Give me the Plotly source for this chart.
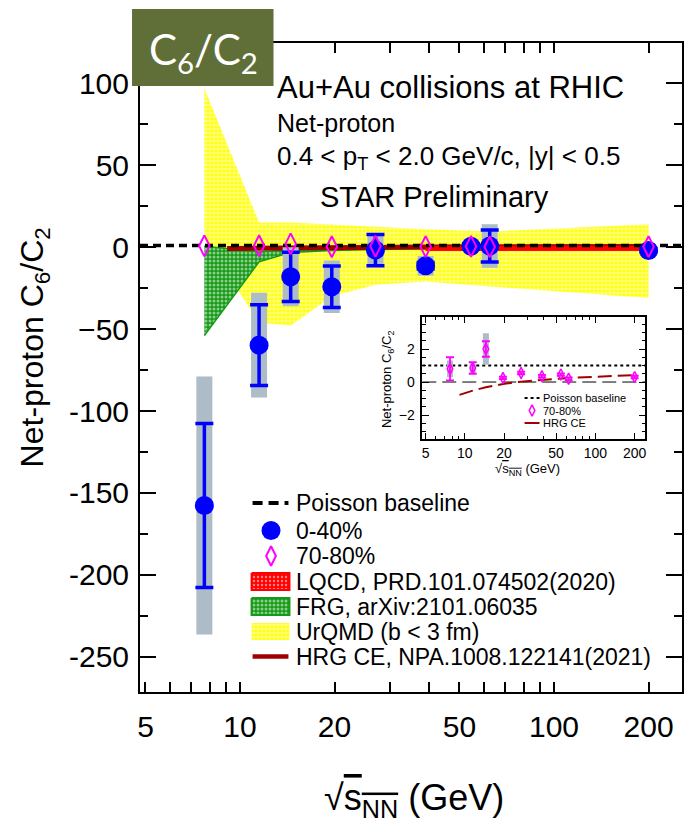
import math
import plotly.graph_objects as go

# ---------------- data ----------------
energy = [7.7, 11.5, 14.5, 19.6, 27, 39, 54.4, 62.4, 200]
c6c2_0040 = [-157.7, -59.8, -18.1, -24.2, -1.8, -11.4, 0.6, 0.7, -2.0]
stat_0040 = [50.0, 24.7, 15.0, 12.7, 9.5, 2.0, 1.5, 9.7, 1.0]
sys_0040 = [78.7, 32.0, 18.0, 16.0, 10.0, 6.0, 2.5, 13.3, 1.5]

c6c2_7080 = [0.8, 0.85, 2.0, 0.25, 0.55, 0.35, 0.45, 0.2, 0.3]
stat_7080 = [0.7, 0.35, 0.47, 0.08, 0.08, 0.08, 0.08, 0.08, 0.08]
sys_7080 = [0.5, 0.3, 0.95, 0.05, 0.05, 0.05, 0.05, 0.05, 0.05]

urqmd_energy = [7.7, 11.5, 14.5, 19.6, 27, 39, 62.4, 200]
urqmd_upper = [97, 15, 15, 14, 12.5, 11, 9.5, 14]
urqmd_lower = [5, -46, -48, -30, -23, -21, -24, -31]

frg_energy = [7.7, 11.5, 14.5, 19.6, 27, 39]
frg_upper = [0.5, -2.9, -1.4, -1.0, -0.5, -0.5]
frg_lower = [-54, -9, -3.2, -2.0, -1.5, -1.0]

lqcd_energy = [39, 62.4, 200]
lqcd_upper = [0.5, 0.5, 0.5]
lqcd_lower = [-2.0, -2.0, -2.0]

hrg_energy = [9.1, 11.5, 14.5, 19.6, 27, 39, 54.4, 62.4, 100, 200]
hrg_vals = [-0.78, -0.52, -0.32, -0.12, 0.02, 0.14, 0.22, 0.25, 0.32, 0.42]

POISSON = 1.0
ZERO = 0.0

x_ticks = [5, 10, 20, 50, 100, 200]
x_ticktext = ["5", "10", "20", "50", "100", "200"]
x_major_long = [10, 100]
x_minor = [6, 7, 8, 9, 30, 40, 60, 70, 80, 90]
y_ticks = [-250, -200, -150, -100, -50, 0, 50, 100]
y_ticktext = ["-250", "-200", "-150", "-100", "\u221250", "0", "50", "100"]
in_y_ticks = [-2, 0, 2]

X_MIN, X_MAX = 4.803, 255.6
Y_MIN, Y_MAX = -271.5, 124.6
IX_MIN, IX_MAX = 4.72, 242.0
IY_MIN, IY_MAX = -3.45, 3.92

# ---------------- styling / layout constants ----------------
FONT = "Liberation Sans"
BLUE = "#0000ff"
MAG = "#ff00ff"
GREY = "#adbcc6"
RED = "#ff0000"
DRED = "#a00000"
GREEN = "#159a15"
YEL = "#ffff00"
W, H = 684, 824
L, R, T, B = 140, 684, 43, 692          # main plot area in pixels
IL, IR, IT, IB = 423.3, 647.3, 317.3, 439.0  # inset plot area

YEL_PAT = dict(shape=".", bgcolor=YEL, fgcolor="white", size=4, solidity=0.65)
GRN_PAT = dict(shape=".", bgcolor=GREEN, fgcolor="white", size=4, solidity=0.45)
RED_PAT = dict(shape=".", bgcolor=RED, fgcolor="white", size=4, solidity=0.3)


def px(x):
    return (x - L) / (R - L)


def py(y):
    return (B - y) / (B - T)


fig = go.Figure()

# UrQMD band
fig.add_trace(go.Scatter(
    x=urqmd_energy + urqmd_energy[::-1], y=urqmd_upper + urqmd_lower[::-1],
    fill="toself", mode="lines", line=dict(width=0, color="rgba(0,0,0,0)"),
    fillpattern=YEL_PAT, hoverinfo="skip", showlegend=False))
# FRG band
fig.add_trace(go.Scatter(
    x=frg_energy + frg_energy[::-1], y=frg_upper + frg_lower[::-1],
    fill="toself", mode="lines", line=dict(width=1.5, color=GREEN),
    fillpattern=GRN_PAT, hoverinfo="skip", showlegend=False))
# HRG CE
fig.add_trace(go.Scatter(x=hrg_energy, y=hrg_vals, mode="lines",
                         line=dict(color=DRED, width=5), hoverinfo="skip", showlegend=False))
# LQCD band
fig.add_trace(go.Scatter(
    x=lqcd_energy + lqcd_energy[::-1], y=lqcd_upper + lqcd_lower[::-1],
    fill="toself", mode="lines", line=dict(width=1, color=RED), fillcolor=RED,
    hoverinfo="skip", showlegend=False))
# Poisson baseline
fig.add_trace(go.Scatter(x=[X_MIN, X_MAX], y=[POISSON, POISSON], mode="lines",
                         line=dict(color="black", width=3.5, dash="8px,5px"),
                         hoverinfo="skip", showlegend=False))
# 0-40% systematic
fig.add_trace(go.Scatter(x=energy, y=c6c2_0040, mode="markers",
                         marker=dict(size=1, color="rgba(0,0,0,0)"),
                         error_y=dict(type="data", array=sys_0040, color=GREY, thickness=16, width=0),
                         hoverinfo="skip", showlegend=False))
# 0-40% points with stat errors
fig.add_trace(go.Scatter(x=energy, y=c6c2_0040, mode="markers",
                         marker=dict(symbol="circle", size=19, color=BLUE),
                         error_y=dict(type="data", array=stat_0040, color=BLUE, thickness=3.5, width=9),
                         showlegend=False))
# 70-80% points
fig.add_trace(go.Scatter(x=energy, y=c6c2_7080, mode="markers",
                         marker=dict(symbol="diamond-tall-open", size=15, color=MAG,
                                     line=dict(width=2, color=MAG)),
                         showlegend=False))

# ---------------- inset ----------------
fig.add_trace(go.Scatter(x=[IX_MIN, IX_MAX], y=[ZERO, ZERO], mode="lines", xaxis="x3", yaxis="y3",
                         line=dict(color="black", width=1, dash="14px,6px"), hoverinfo="skip", showlegend=False))
fig.add_trace(go.Scatter(x=[IX_MIN, IX_MAX], y=[POISSON, POISSON], mode="lines", xaxis="x3", yaxis="y3",
                         line=dict(color="black", width=1.8, dash="3px,3px"), hoverinfo="skip", showlegend=False))
fig.add_trace(go.Scatter(x=hrg_energy, y=hrg_vals, mode="lines", xaxis="x3", yaxis="y3",
                         line=dict(color=DRED, width=2, dash="14px,6px"), hoverinfo="skip", showlegend=False))
fig.add_trace(go.Scatter(x=energy, y=c6c2_7080, mode="markers", xaxis="x3", yaxis="y3",
                         marker=dict(size=1, color="rgba(0,0,0,0)"),
                         error_y=dict(type="data", array=sys_7080, color=GREY, thickness=6, width=0),
                         hoverinfo="skip", showlegend=False))
fig.add_trace(go.Scatter(x=energy, y=c6c2_7080, mode="markers", xaxis="x3", yaxis="y3",
                         marker=dict(symbol="diamond-tall-open", size=8, color=MAG, line=dict(width=1.5, color=MAG)),
                         error_y=dict(type="data", array=stat_7080, color=MAG, thickness=1.8, width=4),
                         showlegend=False))

# ---------------- legend symbols (pixel overlay axes) ----------------
def seg(x0, x1, y, color, width, dash, axes=("x2", "y2")):
    fig.add_trace(go.Scatter(x=[x0, x1], y=[y, y], mode="lines", xaxis=axes[0], yaxis=axes[1],
                             line=dict(color=color, width=width, dash=dash), cliponaxis=False,
                             hoverinfo="skip", showlegend=False))


def box(x0, x1, y0, y1, pattern, line):
    fig.add_trace(go.Scatter(x=[x0, x1, x1, x0, x0], y=[y0, y0, y1, y1, y0], mode="lines",
                             xaxis="x2", yaxis="y2", fill="toself", fillpattern=pattern, line=line,
                             cliponaxis=False, hoverinfo="skip", showlegend=False))


leg_rows = [503, 530.5, 556, 581.5, 606.5, 631.5, 656.5]
leg_text = ["Poisson baseline", "0-40%", "70-80%", "LQCD, PRD.101.074502(2020)",
            "FRG, arXiv:2101.06035", "UrQMD (b &lt; 3 fm)", "HRG CE, NPA.1008.122141(2021)"]
seg(253, 289, leg_rows[0], "black", 4, "10px,6px")
fig.add_trace(go.Scatter(x=[271.5], y=[leg_rows[1]], mode="markers", xaxis="x2", yaxis="y2",
                         marker=dict(symbol="circle", size=19, color=BLUE), cliponaxis=False,
                         hoverinfo="skip", showlegend=False))
fig.add_trace(go.Scatter(x=[271.5], y=[leg_rows[2]], mode="markers", xaxis="x2", yaxis="y2",
                         marker=dict(symbol="diamond-tall-open", size=14, color=MAG, line=dict(width=2, color=MAG)),
                         cliponaxis=False, hoverinfo="skip", showlegend=False))
box(252, 290, leg_rows[3] - 8.5, leg_rows[3] + 8.5, RED_PAT, dict(color=RED, width=2))
box(252, 290, leg_rows[4] - 8.5, leg_rows[4] + 8.5, GRN_PAT, dict(color=GREEN, width=2))
box(252, 290, leg_rows[5] - 8.5, leg_rows[5] + 8.5, YEL_PAT, dict(width=0, color="rgba(0,0,0,0)"))
seg(253, 289, leg_rows[6], DRED, 4.5, "solid")

# inset legend symbols
in_rows = [398, 410.5, 423]
in_text = ["Poisson baseline", "70-80%", "HRG CE"]
seg(526, 541, in_rows[0], "black", 1.8, "3px,3px", axes=("x5", "y5"))
fig.add_trace(go.Scatter(x=[533.5], y=[in_rows[1]], mode="markers", xaxis="x5", yaxis="y5",
                         marker=dict(symbol="diamond-tall-open", size=8, color=MAG, line=dict(width=1.5, color=MAG)),
                         cliponaxis=False, hoverinfo="skip", showlegend=False))
seg(526, 541, in_rows[2], DRED, 2, "solid", axes=("x5", "y5"))

# ---------------- annotations ----------------
ann = []


def text(x, y, s, size, anchor="left", color="black", family=FONT, angle=0):
    ann.append(dict(x=px(x), y=py(y), xref="paper", yref="paper", text=s, showarrow=False,
                    xanchor=anchor, yanchor="middle", textangle=angle, borderpad=0,
                    font=dict(family=family, size=size, color=color)))


text(277, 88, "Au+Au collisions at RHIC", 31)
text(277, 123, "Net-proton", 25)
text(277, 157, "0.4 &lt; p<sub>T</sub> &lt; 2.0 GeV/c, |y| &lt; 0.5", 26)
text(320, 197, "STAR Preliminary", 29)
for r, s in zip(leg_rows, leg_text):
    text(296, r, s, 23)
for r, s in zip(in_rows, in_text):
    text(543, r, s, 11)
text(203.5, 52, "C<sub>6</sub>/C<sub>2</sub>", 42, anchor="center", color="white", family="Lato")
text(34, 347, "Net-proton C<sub>6</sub>/C<sub>2</sub>", 32, anchor="center", angle=-90)
text(415, 800, "\u221a<span style='text-decoration:overline'>s<sub>NN</sub></span> (GeV)", 36, anchor="center")
text(388, 379, "Net-proton C<sub>6</sub>/C<sub>2</sub>", 13, anchor="center", angle=-90)
text(529, 469, "\u221a<span style='text-decoration:overline'>s<sub>NN</sub></span> (GeV)", 13, anchor="center")

shapes = [dict(type="rect", xref="paper", yref="paper", x0=px(132), x1=px(274), y0=py(86), y1=py(9),
               fillcolor="#5f6f37", line=dict(width=0), layer="above")]

tickfont = dict(family=FONT, size=30, color="black")
in_tickfont = dict(family=FONT, size=14, color="black")

fig.update_layout(
    width=W, height=H, margin=dict(l=L, r=W - R, t=T, b=H - B),
    paper_bgcolor="white", plot_bgcolor="white", showlegend=False,
    annotations=ann, shapes=shapes,
    xaxis=dict(type="log", range=[math.log10(X_MIN), math.log10(X_MAX)], domain=[0, 1], anchor="y",
               showline=True, linewidth=2, linecolor="black", mirror="ticks",
               ticks="inside", ticklen=10, tickwidth=2, tickcolor="black",
               tickvals=x_ticks, ticktext=x_ticktext, tickfont=tickfont, ticklabelstandoff=7,
               minor=dict(tickvals=x_minor, ticks="inside", ticklen=10, tickwidth=2, tickcolor="black",
                          showgrid=False),
               showgrid=False, zeroline=False),
    xaxis4=dict(type="log", range=[math.log10(X_MIN), math.log10(X_MAX)], overlaying="x", anchor="y",
                showline=True, linewidth=2, linecolor="black", mirror="ticks",
                ticks="inside", ticklen=20, tickwidth=2, tickcolor="black",
                tickvals=x_major_long, showticklabels=False, showgrid=False, zeroline=False),
    yaxis=dict(range=[Y_MIN, Y_MAX], domain=[0, 1], anchor="x",
               showline=True, linewidth=2, linecolor="black", mirror="ticks",
               ticks="inside", ticklen=16, tickwidth=2, tickcolor="black",
               tickvals=y_ticks, ticktext=y_ticktext, tickfont=tickfont, ticklabelstandoff=3,
               minor=dict(dtick=25, tick0=0, ticks="inside", ticklen=8, tickwidth=2, tickcolor="black",
                          showgrid=False),
               showgrid=False, zeroline=False),
    xaxis2=dict(overlaying="x", range=[L, R], visible=False, anchor="y2"),
    yaxis2=dict(overlaying="y", range=[B, T], visible=False, anchor="x2"),
    xaxis3=dict(type="log", range=[math.log10(IX_MIN), math.log10(IX_MAX)],
                domain=[px(IL), px(IR)], anchor="y3",
                showline=True, linewidth=1.5, linecolor="black", mirror="ticks",
                ticks="inside", ticklen=6, tickwidth=1.2, tickcolor="black",
                tickvals=x_ticks, ticktext=x_ticktext, tickfont=in_tickfont, ticklabelstandoff=0,
                minor=dict(tickvals=x_minor, ticks="inside", ticklen=3, tickwidth=1, tickcolor="black",
                           showgrid=False),
                showgrid=False, zeroline=False),
    yaxis3=dict(range=[IY_MIN, IY_MAX], domain=[py(IB), py(IT)], anchor="x3",
                showline=True, linewidth=1.5, linecolor="black", mirror="ticks",
                ticks="inside", ticklen=7, tickwidth=1.2, tickcolor="black",
                tickvals=in_y_ticks, tickfont=in_tickfont, ticklabelstandoff=3,
                minor=dict(dtick=0.5, tick0=0, ticks="inside", ticklen=4, tickwidth=1, tickcolor="black",
                           showgrid=False),
                showgrid=False, zeroline=False),
    xaxis5=dict(overlaying="x3", range=[IL, IR], visible=False, anchor="y5"),
    yaxis5=dict(overlaying="y3", range=[IB, IT], visible=False, anchor="x5"),
)

fig.write_html("out.html")
